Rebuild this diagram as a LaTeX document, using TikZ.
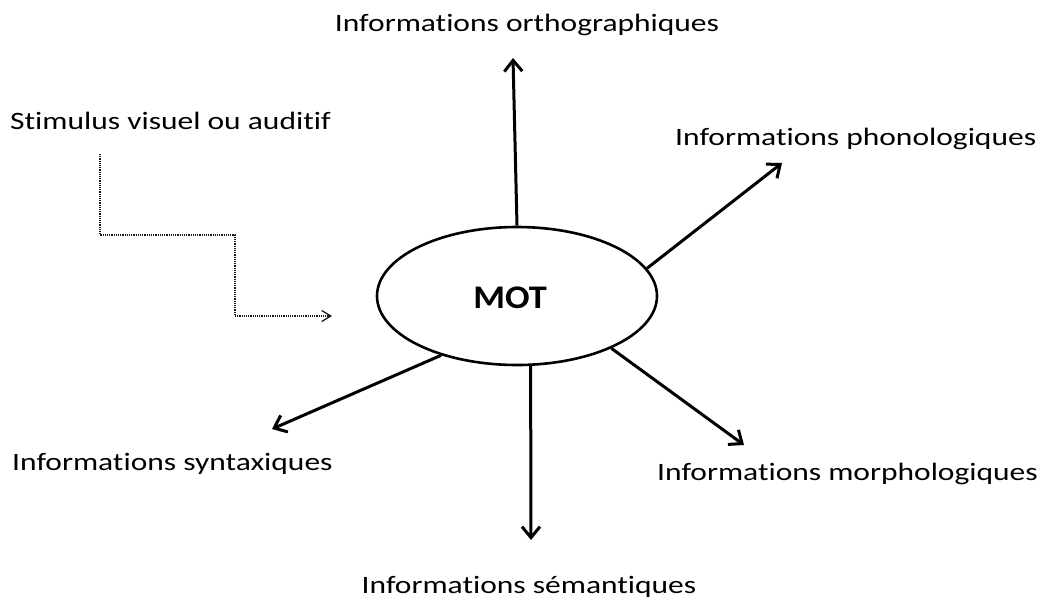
\documentclass[tikz,border=0pt]{standalone}
\usepackage{fontspec}
\setmainfont{Carlito}[FakeStretch=1.26, Ligatures=NoCommon]
\newfontfamily\motFont{Carlito}[FakeStretch=1.1]
\usepackage{tikz}
\usetikzlibrary{positioning,shapes.geometric,arrows.meta}
\tikzstyle{motStyle} = [draw, ellipse, line width=2.6pt, minimum width=280pt, minimum height=138pt, inner sep=0pt]
\tikzstyle{motText} = [inner sep=0pt, font=\motFont\fontsize{33}{36}\selectfont\bfseries]
\tikzstyle{infoText} = [inner sep=0pt, font=\fontsize{25}{30}\selectfont]
\tikzstyle{infoArrow} = [line width=3pt, -{Straight Barb[length=11pt,width=18pt]}]
\tikzstyle{stimulusLine} = [line width=1.3pt, color=black!90, dash pattern=on 1.2pt off 1pt, -{Straight Barb[length=9pt,width=11pt]}]
\newcommand{\infoArrow}[2]{\draw [infoArrow] (mot.#1) -- (#2);}

\begin{document}
\begin{tikzpicture}[x = 1pt, y = -1pt]
       \useasboundingbox (0,0) rectangle (1044,606);
       \node [motStyle] (mot) at (517,296) {};
       \node [motText] (motLabel) at (510,298) {MOT};

       \node [infoText, anchor=base] (ortho) at (527,31) {Informations orthographiques};
       \node [infoText, anchor=base west] (stimulus) at (10,129) {Stimulus visuel ou auditif};
       \node [infoText, anchor=base west] (phono) at (675,145) {Informations phonologiques};
       \node [infoText, anchor=base west] (syntax) at (12,470) {Informations syntaxiques};
       \node [infoText, anchor=base west] (morpho) at (657,480) {Informations morphologiques};
       \node [infoText, anchor=base] (sem) at (529,593) {Informations sémantiques};

       \coordinate (orthoTip) at (513,58);
       \coordinate (phonoTip) at (782,163);
       \coordinate (morphoTip) at (744,445);
       \coordinate (semTip) at (531,540);
       \coordinate (syntaxTip) at (272,429);

       \infoArrow{north}{orthoTip}
       \infoArrow{12.6}{phonoTip}
       \infoArrow{331}{morphoTip}
       \infoArrow{281.5}{semTip}
       \infoArrow{218.7}{syntaxTip}

       % stimulus path
       \coordinate (stimStart) at (100,154);
       \coordinate (stimStep) at (235,235);
       \coordinate (stimEnd) at (332,316);
       \draw [stimulusLine] (stimStart) |- (stimStep) |- (stimEnd);
     \end{tikzpicture}
\end{document}
